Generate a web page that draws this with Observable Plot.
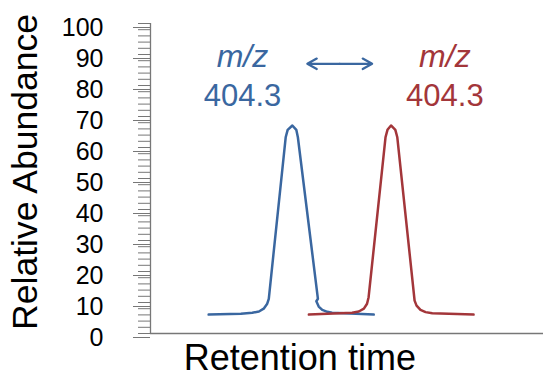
<!DOCTYPE html>
<html>
<head>
<meta charset="utf-8">
<script src="https://cdn.jsdelivr.net/npm/d3@7"></script>
<script src="https://cdn.jsdelivr.net/npm/@observablehq/plot@0.6"></script>
<style>
  html, body { margin: 0; padding: 0; background: #fff; }
  svg { display: block; }
</style>
</head>
<body>
<div id="chart"></div>
<script>
// Blue trace (retention time, relative abundance)
const blueTime = [1.48, 2.30, 2.59, 2.76, 2.88, 2.97, 3.01, 3.44, 3.49, 3.61, 3.71, 3.75, 4.26, 4.22, 4.28, 4.37, 4.50, 4.62, 5.68];
const blueAbund = [6.1, 6.4, 6.7, 7.1, 8.0, 9.6, 11.2, 63.3, 65.7, 67.1, 65.7, 63.3, 11.2, 10.4, 8.7, 7.6, 7.0, 6.7, 6.1];
// Red trace
const redTime = [4.03, 5.13, 5.30, 5.43, 5.51, 5.55, 5.98, 6.03, 6.12, 6.23, 6.28, 6.72, 6.77, 6.87, 7.00, 7.17, 8.22];
const redAbund = [6.1, 6.7, 7.1, 8.0, 9.6, 11.7, 63.3, 65.7, 67.1, 65.7, 63.3, 10.6, 9.0, 7.6, 6.9, 6.5, 6.1];

const majorTicks = [0, 10, 20, 30, 40, 50, 60, 70, 80, 90, 100];
const minorTicks = d3.range(0, 101, 2);

const labels = [
  {x: 2.34, y: 86.1, text: "m/z", italic: true, series: "blue"},
  {x: 2.34, y: 73.5, text: "404.3", italic: false, series: "blue"},
  {x: 7.49, y: 86.1, text: "m/z", italic: true, series: "red"},
  {x: 7.49, y: 73.5, text: "404.3", italic: false, series: "red"}
];
const arrowMid = 4.815, arrowLeft = 3.99, arrowRight = 5.64, arrowY = 87;

const BLUE = "#3a67a0", RED = "#a3363a";

const blue = blueTime.map((t, i) => ({t, a: blueAbund[i]}));
const red = redTime.map((t, i) => ({t, a: redAbund[i]}));

const chart = Plot.plot({
  width: 543,
  height: 376,
  marginLeft: 150,
  marginRight: 0,
  marginTop: 23,
  marginBottom: 43,
  style: {fontFamily: "Liberation Sans, Arial, sans-serif", background: "#fff", overflow: "visible"},
  x: {domain: [0, 10], axis: null},
  y: {domain: [0, 100], axis: null},
  marks: [
    Plot.axisY(minorTicks, {tickSize: 12, tickFormat: () => "", stroke: "#777", label: null}),
    Plot.axisY(majorTicks, {tickSize: 17, tickPadding: 30, fontSize: 25, dy: 4, stroke: "#777", fill: "#000", label: null}),
    Plot.ruleX([0], {y1: 0, y2: 100, stroke: "#777", strokeWidth: 1.3}),
    Plot.ruleY([0], {stroke: "#777", strokeWidth: 1.3}),
    Plot.line(blue, {x: "t", y: "a", stroke: BLUE, strokeWidth: 2.5}),
    Plot.line(red, {x: "t", y: "a", stroke: RED, strokeWidth: 2.5}),
    Plot.arrow([{x1: arrowMid, x2: arrowLeft, y: arrowY}, {x1: arrowMid, x2: arrowRight, y: arrowY}],
      {x1: "x1", x2: "x2", y1: "y", y2: "y", stroke: BLUE, strokeWidth: 2.2, headLength: 22, headAngle: 58}),
    Plot.text(labels.filter(d => d.italic), {x: "x", y: "y", text: "text", fill: d => d.series === "blue" ? BLUE : RED,
      fontSize: 32, fontStyle: "italic", lineAnchor: "bottom", textAnchor: "middle"}),
    Plot.text(labels.filter(d => !d.italic), {x: "x", y: "y", text: "text", fill: d => d.series === "blue" ? BLUE : RED,
      fontSize: 31, lineAnchor: "bottom", textAnchor: "middle"}),
    Plot.text(["Relative Abundance"], {frameAnchor: "left", y: [52.1], text: d => d, rotate: -90, dx: -114,
      fontSize: 35.5, lineAnchor: "bottom", textAnchor: "middle", fill: "#000"}),
    Plot.text(["Retention time"], {frameAnchor: "bottom", x: [3.80], text: d => d, dy: 36,
      fontSize: 36, lineAnchor: "bottom", textAnchor: "middle", fill: "#000"})
  ]
});
document.getElementById("chart").appendChild(chart);
</script>
</body>
</html>
